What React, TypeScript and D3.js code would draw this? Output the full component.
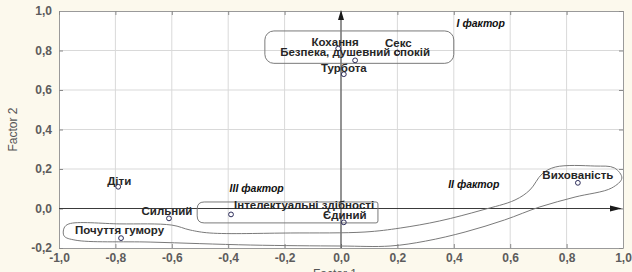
import React, { useRef, useEffect } from 'react';
import * as d3 from 'd3';

// values
const itemNames = [
  'Кохання', 'Секс', 'Безпека, душевний спокій', 'Турбота', 'Діти',
  'Сильний', 'Інтелектуальні здібності', 'Почуття гумору', 'Єдиний', 'Вихованість',
];
const factor1 = [-0.01, 0.2, 0.05, 0.01, -0.79, -0.61, -0.39, -0.78, 0.01, 0.84];
const factor2 = [0.81, 0.79, 0.75, 0.68, 0.11, -0.05, -0.03, -0.15, -0.07, 0.13];

const xTicks = [-1, -0.8, -0.6, -0.4, -0.2, 0, 0.2, 0.4, 0.6, 0.8, 1];
const yTicks = [-0.2, 0, 0.2, 0.4, 0.6, 0.8, 1];

const factorNames = ['I фактор', 'II фактор', 'III фактор'];
const factorX = [0.41, 0.38, -0.395];
const factorY = [0.92, 0.104, 0.084];

// group outlines, in factor units
const groupBox1 = [[-0.27, 0.899], [0.40, 0.735]];
const groupBox2 = [[-0.51, 0.033], [0.131, -0.073]];
const groupOutline3 = [
  [-0.965, -0.078], [-0.784, -0.078], [-0.6, -0.084], [-0.535, -0.109], [-0.465, -0.124],
  [-0.18, -0.124], [0.085, -0.119], [0.21, -0.099], [0.35, -0.063], [0.5, -0.008],
  [0.617, 0.043], [0.67, 0.094], [0.713, 0.175], [0.76, 0.21], [0.9, 0.215],
  [0.97, 0.205], [0.996, 0.154], [0.96, 0.104], [0.83, 0.058], [0.705, 0.008],
  [0.58, -0.058], [0.44, -0.119], [0.3, -0.165], [0.174, -0.19], [0.0, -0.19],
  [-0.32, -0.185], [-0.677, -0.17], [-0.943, -0.16], [-0.982, -0.139], [-0.982, -0.099],
];

// label placement (px from the marker) and anchor
const labelDx = [-3, 1, 0, 0, 1, -2, 3, -1.5, 1, 0];
const labelDy = [-3, -5, -4, -2, -2, -3, -5, -4, -3, -4];
const labelAnchor = ['middle', 'middle', 'middle', 'middle', 'middle', 'middle', 'start', 'middle', 'middle', 'middle'];

const W = 632;
const H = 272;
const fmt = (v: number) => v.toFixed(1).replace('.', ',');

const App = () => {
  const svgRef = useRef<SVGSVGElement>(null);

  useEffect(() => {
    const svg = d3.select(svgRef.current);
    svg.selectAll('*').remove();

    const x = d3.scaleLinear().domain([-1, 1]).range([59, 623]);
    const y = d3.scaleLinear().domain([-0.2, 1]).range([248, 11]);

    svg.append('rect').attr('width', W).attr('height', H).attr('fill', '#fcf9ed');
    svg.append('rect')
      .attr('x', x(-1)).attr('y', y(1))
      .attr('width', x(1) - x(-1)).attr('height', y(-0.2) - y(1))
      .attr('fill', '#ffffff');

    // grid
    svg.append('g').selectAll('line').data(xTicks.slice(1, -1)).join('line')
      .attr('x1', d => x(d)).attr('x2', d => x(d))
      .attr('y1', y(1)).attr('y2', y(-0.2))
      .attr('stroke', '#d9d9d9');
    svg.append('g').selectAll('line').data(yTicks.slice(1, -1)).join('line')
      .attr('x1', x(-1)).attr('x2', x(1))
      .attr('y1', d => y(d)).attr('y2', d => y(d))
      .attr('stroke', '#d9d9d9');

    // axes with tick labels
    const styleAxis = (g: any) => {
      g.select('.domain').attr('stroke', '#9a9a9a');
      g.selectAll('.tick line').attr('stroke', '#8a8a8a');
      g.selectAll('.tick text')
        .attr('fill', '#5c5c5c')
        .style('font', 'bold 12px "Liberation Sans", Arial, sans-serif');
    };
    svg.append('g')
      .attr('transform', `translate(0,${y(-0.2)})`)
      .call(d3.axisBottom(x).tickValues(xTicks).tickFormat(fmt).tickSize(-4).tickPadding(5).tickSizeOuter(0))
      .call(styleAxis);
    svg.append('g')
      .attr('transform', `translate(${x(-1)},0)`)
      .call(d3.axisLeft(y).tickValues(yTicks).tickFormat(fmt).tickSize(-4).tickPadding(7).tickSizeOuter(0))
      .call(styleAxis);
    svg.append('g')
      .attr('transform', `translate(0,${y(1)})`)
      .call(d3.axisTop(x).tickValues(xTicks).tickFormat(() => '').tickSize(-4).tickSizeOuter(0))
      .call(styleAxis);
    svg.append('g')
      .attr('transform', `translate(${x(1)},0)`)
      .call(d3.axisRight(y).tickValues(yTicks).tickFormat(() => '').tickSize(-4).tickSizeOuter(0))
      .call(styleAxis);

    // axis titles
    svg.append('text')
      .attr('x', x(0) - 6).attr('y', 278)
      .attr('text-anchor', 'middle')
      .attr('fill', '#555')
      .style('font', '12px "Liberation Sans Narrow", "Liberation Sans", sans-serif')
      .text('Factor 1');
    svg.append('text')
      .attr('transform', `translate(17,${y(0.4)}) rotate(-90)`)
      .attr('text-anchor', 'middle')
      .attr('fill', '#555')
      .style('font', '12px "Liberation Sans Narrow", "Liberation Sans", sans-serif')
      .text('Factor 2');

    // arrows through the origin
    const arrows = svg.append('g').attr('stroke', '#3a3a3a').attr('fill', '#1a1a1a');
    arrows.append('line')
      .attr('x1', x(-1)).attr('x2', x(1) - 10)
      .attr('y1', y(0)).attr('y2', y(0));
    arrows.append('path')
      .attr('d', `M${x(1) - 1},${y(0)} L${x(1) - 13},${y(0) - 3} L${x(1) - 13},${y(0) + 3} Z`)
      .attr('stroke', 'none');
    arrows.append('line')
      .attr('x1', x(0)).attr('x2', x(0))
      .attr('y1', y(-0.2)).attr('y2', y(1) + 8);
    arrows.append('path')
      .attr('d', `M${x(0)},${y(1) - 1} L${x(0) - 3},${y(1) + 9} L${x(0) + 3},${y(1) + 9} Z`)
      .attr('stroke', 'none');

    // group outlines
    const outlines = svg.append('g').attr('fill', 'none').attr('stroke', '#7a7a7a').attr('stroke-width', 1);
    outlines.append('rect')
      .attr('x', x(groupBox1[0][0])).attr('y', y(groupBox1[0][1]))
      .attr('width', x(groupBox1[1][0]) - x(groupBox1[0][0]))
      .attr('height', y(groupBox1[1][1]) - y(groupBox1[0][1]))
      .attr('rx', 9);
    const bx0 = x(groupBox2[0][0]), by0 = y(groupBox2[0][1]);
    const bx1 = x(groupBox2[1][0]), by1 = y(groupBox2[1][1]);
    const p = d3.path();
    p.moveTo(bx0 + 7, by0);
    p.lineTo(bx1 - 2, by0);
    p.quadraticCurveTo(bx1, by0, bx1, by0 + 2);
    p.lineTo(bx1, by1 - 2);
    p.quadraticCurveTo(bx1, by1, bx1 - 2, by1);
    p.lineTo(bx0 + 7, by1);
    p.quadraticCurveTo(bx0, by1, bx0, by1 - 7);
    p.lineTo(bx0, by0 + 7);
    p.quadraticCurveTo(bx0, by0, bx0 + 7, by0);
    outlines.append('path').attr('d', p.toString());
    outlines.append('path')
      .attr('d', d3.line<number[]>()
        .x(d => x(d[0])).y(d => y(d[1]))
        .curve(d3.curveCatmullRomClosed.alpha(0.5))(groupOutline3));

    // factor captions
    svg.append('g').selectAll('text').data(factorNames).join('text')
      .attr('x', (d, i) => x(factorX[i])).attr('y', (d, i) => y(factorY[i]))
      .attr('fill', '#111')
      .style('font', 'italic bold 10.5px "Liberation Sans", Arial, sans-serif')
      .text(d => d);

    // markers and labels
    const items = itemNames.map((name, i) => ({ name, f1: factor1[i], f2: factor2[i], i }));
    svg.append('g').selectAll('circle').data(items).join('circle')
      .attr('cx', d => x(d.f1)).attr('cy', d => y(d.f2))
      .attr('r', 2.4)
      .attr('fill', 'none')
      .attr('stroke', '#2c2c5a')
      .attr('stroke-width', 1);
    svg.append('g').selectAll('text').data(items).join('text')
      .attr('x', d => x(d.f1) + labelDx[d.i])
      .attr('y', d => y(d.f2) + labelDy[d.i])
      .attr('text-anchor', d => labelAnchor[d.i])
      .attr('fill', '#262626')
      .style('font', 'bold 11.5px "Liberation Sans", Arial, sans-serif')
      .text(d => d.name);
  }, []);

  return (
    <svg
      ref={svgRef}
      width={W}
      height={H}
      style={{ position: 'absolute', left: 0, top: 0, display: 'block' }}
    />
  );
};

export default App;
